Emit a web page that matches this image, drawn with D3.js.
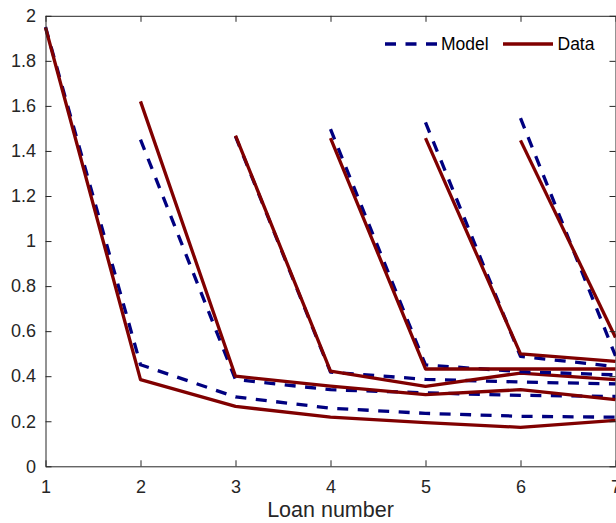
<!DOCTYPE html>
<html>
<head>
<meta charset="utf-8">
<script src="https://cdn.jsdelivr.net/npm/d3@7"></script>
<style>
  html, body { margin: 0; padding: 0; background: #fff; }
  svg { display: block; font-family: "Liberation Sans", Arial, Helvetica, sans-serif; }
</style>
</head>
<body>
<svg id="chart" width="616" height="523"></svg>
<script>
// Loan numbers on the x axis
const loans = [1, 2, 3, 4, 5, 6, 7];
const yTicks = [0, 0.2, 0.4, 0.6, 0.8, 1, 1.2, 1.4, 1.6, 1.8, 2];

// Each cohort starts at the loan given in cohortStart and runs to loan 7
const cohortStart = [1, 2, 3, 4, 5, 6];

// Model predictions per cohort
const model1 = [1.95, 0.451, 0.308, 0.258, 0.235, 0.222, 0.218];
const model2 = [1.45, 0.385, 0.340, 0.326, 0.315, 0.310];
const model3 = [1.465, 0.418, 0.386, 0.374, 0.366];
const model4 = [1.497, 0.450, 0.420, 0.406];
const model5 = [1.527, 0.488, 0.443];
const model6 = [1.546, 0.490];

// Observed data per cohort
const data1 = [1.948, 0.385, 0.266, 0.218, 0.194, 0.173, 0.204];
const data2 = [1.62, 0.400, 0.356, 0.318, 0.340, 0.296];
const data3 = [1.468, 0.423, 0.355, 0.414, 0.385];
const data4 = [1.457, 0.432, 0.432, 0.432];
const data5 = [1.457, 0.499, 0.466];
const data6 = [1.447, 0.572];

const modelSeries = [model1, model2, model3, model4, model5, model6];
const dataSeries = [data1, data2, data3, data4, data5, data6];

const modelColor = "#000080";
const dataColor = "#800000";
const axisColor = "#262626";

const svg = d3.select("#chart");
const plotLeft = 45.5, plotRight = 615.5, plotTop = 15.8, plotBottom = 466.3;

const x = d3.scaleLinear().domain([1, 7]).range([plotLeft, plotRight]);
const y = d3.scaleLinear().domain([0, 2]).range([plotBottom, plotTop]);

const line = d3.line()
  .x(d => x(d.loan))
  .y(d => y(d.value));

const toPoints = (vals, start) => vals.map((v, i) => ({ loan: start + i, value: v }));

const plot = svg.append("g");

// Lines: model (dashed) then data (solid) for every cohort
cohortStart.forEach((start, i) => {
  plot.append("path")
    .datum(toPoints(modelSeries[i], start))
    .attr("d", line)
    .attr("fill", "none")
    .attr("stroke", modelColor)
    .attr("stroke-width", 3.3)
    .attr("stroke-dasharray", "11,9.5")
    .attr("stroke-linejoin", "round");
  plot.append("path")
    .datum(toPoints(dataSeries[i], start))
    .attr("d", line)
    .attr("fill", "none")
    .attr("stroke", dataColor)
    .attr("stroke-width", 3.3)
    .attr("stroke-linejoin", "round");
});

// Axes with inward ticks on all four sides
const tickLen = 6;
const fmt = d => String(d);

const xAxisB = d3.axisBottom(x).tickValues(loans).tickSizeInner(-tickLen).tickSizeOuter(0).tickPadding(13.5).tickFormat(fmt);
const xAxisT = d3.axisTop(x).tickValues(loans).tickSizeInner(-tickLen).tickSizeOuter(0).tickFormat("");
const yAxisL = d3.axisLeft(y).tickValues(yTicks).tickSizeInner(-tickLen).tickSizeOuter(0).tickPadding(9.5).tickFormat(fmt);
const yAxisR = d3.axisRight(y).tickValues(yTicks).tickSizeInner(-tickLen).tickSizeOuter(0).tickFormat("");

function styleAxis(g) {
  g.select(".domain").attr("stroke", axisColor).attr("stroke-width", 1);
  g.selectAll(".tick line").attr("stroke", axisColor).attr("stroke-width", 1);
  g.selectAll(".tick text").attr("fill", axisColor).style("font-size", "18px")
    .style("font-family", "'Liberation Sans', Arial, sans-serif");
}

svg.append("g").attr("transform", `translate(0,${plotBottom})`).call(xAxisB).call(styleAxis);
svg.append("g").attr("transform", `translate(0,${plotTop})`).call(xAxisT).call(styleAxis);
svg.append("g").attr("transform", `translate(${plotLeft},0)`).call(yAxisL).call(styleAxis);
svg.append("g").attr("transform", `translate(${plotRight},0)`).call(yAxisR).call(styleAxis);

// X axis title
svg.append("text")
  .attr("x", 330.5)
  .attr("y", 517)
  .attr("text-anchor", "middle")
  .attr("fill", axisColor)
  .style("font-size", "21.5px")
  .text("Loan number");

// Legend
const legendY = 44;
const legend = svg.append("g");
legend.append("line")
  .attr("x1", 385).attr("x2", 437).attr("y1", legendY).attr("y2", legendY)
  .attr("stroke", modelColor).attr("stroke-width", 3.3).attr("stroke-dasharray", "11,9.5");
legend.append("text")
  .attr("x", 441).attr("y", legendY + 6.2)
  .attr("fill", "#000").style("font-size", "17.5px").text("Model");
legend.append("line")
  .attr("x1", 503).attr("x2", 553).attr("y1", legendY).attr("y2", legendY)
  .attr("stroke", dataColor).attr("stroke-width", 3.3);
legend.append("text")
  .attr("x", 557.5).attr("y", legendY + 6.2)
  .attr("fill", "#000").style("font-size", "17.5px").text("Data");
</script>
</body>
</html>
